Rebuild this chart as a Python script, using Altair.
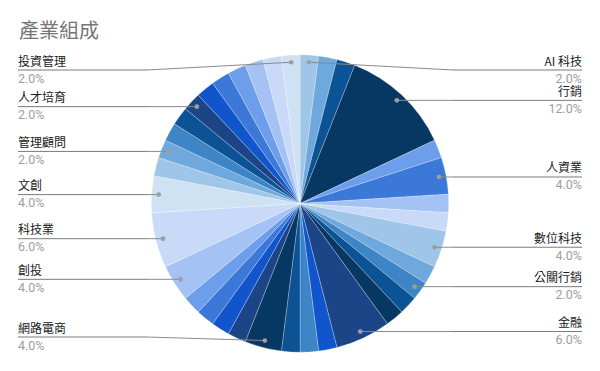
import altair as alt
import pandas as pd

# ---- data (clockwise from 12 o'clock) ----
shares = [2, 2, 2, 12, 2, 4, 2, 2, 4, 2, 2, 2, 2, 6, 2, 2, 2, 4,
          2, 2, 2, 2, 4, 6, 4, 2, 2, 2, 2, 2, 2, 2, 2, 2, 2, 2]
names = ["AI 科技", "", "", "行銷", "", "人資業", "", "", "數位科技", "", "公關行銷", "", "",
         "金融", "", "", "", "網路電商", "", "", "", "", "創投", "科技業", "文創", "",
         "管理顧問", "", "", "人才培育", "", "", "", "", "", "投資管理"]
colors = ["#9fc5e8", "#6fa8dc", "#0b5394", "#073763", "#6d9eeb", "#3c78d8", "#a4c2f4", "#c9daf8",
          "#9fc5e8", "#6fa8dc", "#3d85c6", "#0b5394", "#073763", "#1c4587", "#1155cc", "#3d85c6",
          "#0b5394", "#073763", "#1c4587", "#1155cc", "#3c78d8", "#6d9eeb", "#a4c2f4", "#c9daf8",
          "#cfe2f3", "#9fc5e8", "#6fa8dc", "#3d85c6", "#0b5394", "#1c4587", "#1155cc", "#3c78d8",
          "#6d9eeb", "#a4c2f4", "#c9daf8", "#cfe2f3"]
title = "產業組成"

df = pd.DataFrame({"idx": list(range(len(shares))), "share": shares, "name": names})

W, H = 600, 371
CX, CY, R = 300, 203.5, 148.7
DOT_R = 141.5
CJK = "Noto Sans CJK TC"

base = alt.Chart(df)

pie = base.mark_arc(outerRadius=R, x=CX, y=CY, stroke="#ffffff", strokeWidth=0.25).encode(
    theta=alt.Theta("share:Q", stack=True),
    color=alt.Color("idx:N", scale=alt.Scale(domain=list(range(len(shares))), range=colors), legend=None),
    order=alt.Order("idx:Q"),
)

lab = base.transform_joinaggregate(
    total="sum(share)"
).transform_window(
    cum="sum(share)", sort=[alt.SortField("idx")], frame=[None, 0]
).transform_calculate(
    ang="(datum.cum - datum.share/2)/datum.total*2*PI",
    px=f"{CX} + {DOT_R}*sin(datum.ang)",
    py=f"{CY} - {DOT_R}*cos(datum.ang)",
    left=f"datum.px < {CX}",
    ly="clamp(datum.py, 70, 337)",
    ex="datum.left ? 18 : 582",
    kx="datum.left ? 147 : 453",
    ny="datum.ly - 8.5",
    pyy="datum.ly + 8.5",
    pct="format(datum.share, '.1f') + '%'",
).transform_filter("datum.name != ''")

xs = alt.Scale(domain=[0, W], range=[0, W], nice=False, zero=False)
ys = alt.Scale(domain=[0, H], range=[0, H], nice=False, zero=False)

rule1 = lab.mark_rule(color="#7a7a7a", strokeWidth=1).encode(
    x=alt.X("ex:Q", scale=xs, axis=None), x2="kx:Q",
    y=alt.Y("ly:Q", scale=ys, axis=None), y2="ly:Q",
)
rule2 = lab.mark_rule(color="#8a8a8a", strokeWidth=1).encode(
    x=alt.X("kx:Q", scale=xs, axis=None), x2="px:Q",
    y=alt.Y("ly:Q", scale=ys, axis=None), y2="py:Q",
)
dots = lab.mark_circle(size=22, color="#9e9e9e", opacity=1).encode(
    x=alt.X("px:Q", scale=xs, axis=None),
    y=alt.Y("py:Q", scale=ys, axis=None),
)

def texts(side_left):
    sub = lab.transform_filter("datum.left" if side_left else "!datum.left")
    al = "left" if side_left else "right"
    nm = sub.mark_text(align=al, baseline="middle", fontSize=12, font=CJK, color="#222222").encode(
        x=alt.X("ex:Q", scale=xs, axis=None),
        y=alt.Y("ny:Q", scale=ys, axis=None),
        text="name:N",
    )
    pc = sub.mark_text(align=al, baseline="middle", fontSize=12.5, font="Roboto", color="#9e9e9e").encode(
        x=alt.X("ex:Q", scale=xs, axis=None),
        y=alt.Y("pyy:Q", scale=ys, axis=None),
        text="pct:N",
    )
    return nm + pc

ttl = alt.Chart(pd.DataFrame({"t": [title]})).mark_text(
    align="left", baseline="middle", fontSize=20, font=CJK, color="#757575"
).encode(x=alt.value(19), y=alt.value(32), text="t:N")

chart = alt.layer(pie, rule1, rule2, dots, texts(True), texts(False), ttl).properties(
    width=W, height=H,
    autosize=alt.AutoSizeParams(type="none"),
    padding=0,
    background="#ffffff",
).configure_view(stroke=None)

chart.save("out.html", embed_options={"renderer": "svg", "actions": False})
